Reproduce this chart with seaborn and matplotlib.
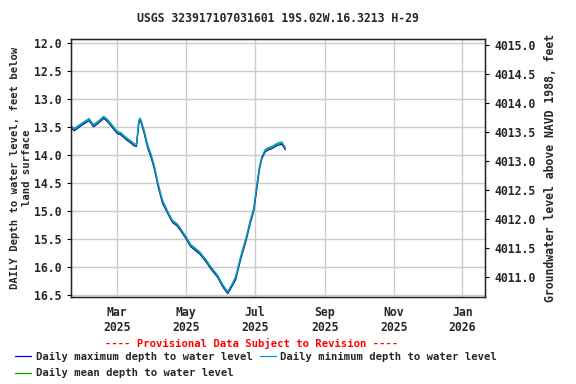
import matplotlib
matplotlib.use("Agg")
import matplotlib.pyplot as plt
import matplotlib.dates as mdates
import seaborn as sns
import pandas as pd
import numpy as np

# daily water levels (feet below land surface)
dates = ["2025-01-20", "2025-01-22", "2025-01-28", "2025-02-04", "2025-02-08", "2025-02-12",
         "2025-02-17", "2025-02-20", "2025-02-25", "2025-03-01", "2025-03-04", "2025-03-09",
         "2025-03-13", "2025-03-16", "2025-03-18", "2025-03-20", "2025-03-21", "2025-03-22",
         "2025-03-25", "2025-03-28", "2025-03-31", "2025-04-03", "2025-04-06", "2025-04-10",
         "2025-04-15", "2025-04-19", "2025-04-23", "2025-04-26", "2025-05-01", "2025-05-05",
         "2025-05-13", "2025-05-19", "2025-05-23", "2025-05-29", "2025-06-02", "2025-06-05",
         "2025-06-07", "2025-06-11", "2025-06-14", "2025-06-18", "2025-06-23", "2025-06-27",
         "2025-06-30", "2025-07-03", "2025-07-05", "2025-07-07", "2025-07-10", "2025-07-13",
         "2025-07-16", "2025-07-21", "2025-07-25", "2025-07-28"]
mean_depth = [13.52, 13.55, 13.46, 13.37, 13.48, 13.42, 13.33, 13.38, 13.50, 13.60, 13.62, 13.71,
              13.77, 13.82, 13.83, 13.43, 13.36, 13.39, 13.60, 13.85, 14.02, 14.23, 14.52, 14.83,
              15.04, 15.19, 15.25, 15.33, 15.48, 15.62, 15.75, 15.90, 16.02, 16.17, 16.32, 16.41,
              16.46, 16.32, 16.20, 15.87, 15.52, 15.19, 14.98, 14.53, 14.24, 14.06, 13.93, 13.89,
              13.87, 13.81, 13.79, 13.89]
max_depth = [13.54, 13.57, 13.48, 13.39, 13.50, 13.44, 13.35, 13.40, 13.52, 13.62, 13.64, 13.73,
             13.79, 13.84, 13.85, 13.46, 13.38, 13.41, 13.63, 13.88, 14.05, 14.26, 14.55, 14.86,
             15.06, 15.21, 15.27, 15.35, 15.50, 15.64, 15.77, 15.92, 16.04, 16.19, 16.34, 16.43,
             16.48, 16.34, 16.23, 15.90, 15.55, 15.22, 15.01, 14.57, 14.27, 14.08, 13.95, 13.91,
             13.89, 13.83, 13.81, 13.91]
min_depth = [13.50, 13.53, 13.44, 13.35, 13.46, 13.40, 13.31, 13.36, 13.48, 13.58, 13.60, 13.69,
             13.75, 13.80, 13.81, 13.40, 13.34, 13.37, 13.57, 13.82, 13.99, 14.20, 14.49, 14.80,
             15.02, 15.17, 15.23, 15.31, 15.46, 15.60, 15.73, 15.88, 16.00, 16.15, 16.30, 16.39,
             16.44, 16.30, 16.17, 15.84, 15.49, 15.16, 14.95, 14.49, 14.21, 14.04, 13.91, 13.87,
             13.85, 13.79, 13.77, 13.87]

left_ticks = [12.0, 12.5, 13.0, 13.5, 14.0, 14.5, 15.0, 15.5, 16.0, 16.5]
right_ticks = [4011.0, 4011.5, 4012.0, 4012.5, 4013.0, 4013.5, 4014.0, 4014.5, 4015.0]

df = pd.DataFrame({"date": pd.to_datetime(dates), "max": max_depth,
                   "min": min_depth, "mean": mean_depth})

sns.set_style("white")
plt.rcParams["font.family"] = ["DejaVu Sans Mono"]
plt.rcParams["font.weight"] = "bold"
fs = 8.3
fs_small = 7.6

fig = plt.figure(figsize=(5.76, 3.84), dpi=100)
ax = fig.add_axes([71 / 576, 87 / 384, 414 / 576, 258 / 384])

sns.lineplot(data=df, x="date", y="max", ax=ax, color="#0000FF", lw=0.9,
             label="Daily maximum depth to water level")
sns.lineplot(data=df, x="date", y="mean", ax=ax, color="#00AA00", lw=0.9,
             label="Daily mean depth to water level")
sns.lineplot(data=df, x="date", y="min", ax=ax, color="#0A8FD8", lw=0.9,
             label="Daily minimum depth to water level")

ax.set_xlim(pd.Timestamp("2025-01-19"), pd.Timestamp("2026-01-21"))
ax.set_ylim(16.54, 11.93)
ax.set_yticks(left_ticks)
ax.set_yticklabels([f"{v:.1f}" for v in left_ticks], fontsize=fs, fontweight="bold")
ax.xaxis.set_major_locator(mdates.MonthLocator(bymonth=[1, 3, 5, 7, 9, 11]))
ax.xaxis.set_major_formatter(mdates.DateFormatter("%b\n%Y"))
for lab in ax.get_xticklabels():
    lab.set_fontsize(fs)
    lab.set_fontweight("bold")
ax.grid(True, color="#CCCCCC", lw=1)
ax.tick_params(axis="both", length=3, width=0.8, color="black")
ax.set_xlabel("")
ax.set_ylabel("DAILY Depth to water level, feet below\nland surface", fontsize=fs_small,
              fontweight="bold", labelpad=2)
for s in ax.spines.values():
    s.set_color("black")
    s.set_linewidth(1)

ax2 = ax.twinx()
ax2.set_ylim(4010.655, 4015.10)
ax2.set_yticks(right_ticks)
ax2.set_yticklabels([f"{v:.1f}" for v in right_ticks], fontsize=fs, fontweight="bold")
ax2.tick_params(axis="y", length=3, width=0.8, color="black")
ax2.set_ylabel("Groundwater level above NAVD 1988, feet", fontsize=fs, fontweight="bold",
               labelpad=6)

handles, labels = ax.get_legend_handles_labels()
ax.get_legend().remove()
fig.legend(handles, labels, loc="upper left", bbox_to_anchor=(15 / 576, 1 - 352 / 384),
           ncol=2, frameon=False, fontsize=7.6, handlelength=1.5, handletextpad=0.45,
           columnspacing=0.7, labelspacing=0.6, borderaxespad=0, borderpad=0)

fig.text(0.483, 1 - 19 / 384, "USGS 323917107031601 19S.02W.16.3213 H-29",
         ha="center", va="center", fontsize=fs, fontweight="bold")
fig.text(252 / 576, 1 - 343 / 384, "---- Provisional Data Subject to Revision ----",
         ha="center", va="center", fontsize=fs_small, fontweight="bold", color="red")

fig.savefig("out.png", dpi=100)
